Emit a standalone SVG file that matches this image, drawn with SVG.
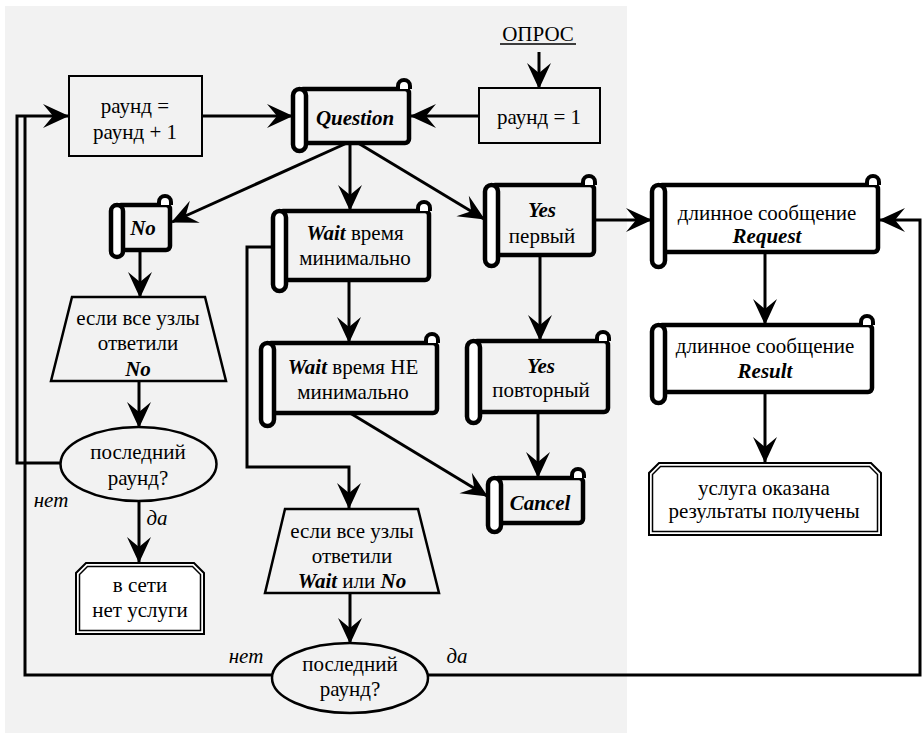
<svg xmlns="http://www.w3.org/2000/svg" width="922" height="733" viewBox="0 0 922 733">
<style>
text{font-size:21px;text-anchor:middle;fill:#000}
.bi{font-weight:bold;font-style:italic}
.it{font-style:italic}
.c{fill:none;stroke:#000;stroke-width:3;stroke-linejoin:miter}
.a{marker-end:url(#ah)}
.box{stroke:#000;stroke-width:2}
.sb{stroke:#000;stroke-width:4.5;stroke-linejoin:round}
.roll{fill:#fff;stroke:#000;stroke-width:4.5}
.curl{fill:#fff;stroke:#000;stroke-width:4}
.g{fill:#f2f2f2}
.w{fill:#fff}
.dbo{fill:#fff;stroke:#000;stroke-width:2}
.dbi{fill:none;stroke:#000;stroke-width:1.5}
</style>
<defs>
<marker id="ah" markerUnits="userSpaceOnUse" markerWidth="30" markerHeight="30" viewBox="-28 -15 30 30" refX="0" refY="0" orient="auto">
<path d="M1,0 L-25,-12 L-15,0 L-25,12 Z" fill="#000"/>
</marker>
</defs>
<rect x="0" y="0" width="922" height="733" fill="#fff"/>
<rect x="5" y="6" width="622" height="727" fill="#f2f2f2"/>
<g font-family="Liberation Serif, Tinos, DejaVu Serif, serif">
<g id="connectors">
<path class="c a" d="M539,52 V88"/>
<path class="c a" d="M479,116 H411"/>
<path class="c a" d="M202,116 H292"/>
<path class="c a" d="M60,463 H17 V116 H68"/>
<path class="c" d="M272,675 H25 V116"/>
<path class="c a" d="M347,143 L172,222"/>
<path class="c a" d="M350,143 V210"/>
<path class="c a" d="M358,143 L484,219"/>
<path class="c a" d="M140,250 V297"/>
<path class="c a" d="M139,381 V427"/>
<path class="c a" d="M139,501 V562"/>
<path class="c a" d="M273,247 H247 V467 H349 V508"/>
<path class="c a" d="M349,280 V342"/>
<path class="c a" d="M350,413 L487,496"/>
<path class="c a" d="M540,255 V340"/>
<path class="c a" d="M538,412 V477"/>
<path class="c a" d="M594,220 H651"/>
<path class="c a" d="M765,252 V324"/>
<path class="c a" d="M765,392 V462"/>
<path class="c a" d="M350,593 V643"/>
<path class="c a" d="M428,675 H920 V220 H880"/>
</g>

<g id="opros">
<text x="538" y="41">ОПРОС</text>
<line x1="500" y1="44" x2="576" y2="44" stroke="#000" stroke-width="1.5"/>
</g>

<g id="n-round1">
<rect class="box g" x="479" y="88" width="121" height="55"/>
<text x="539" y="124">раунд = 1</text>
</g>

<g id="n-roundinc">
<rect class="box g" x="69" y="76" width="133" height="80"/>
<text x="135" y="113">раунд =</text>
<text x="135" y="139">раунд + 1</text>
</g>

<g id="n-question">
<rect class="sb g" x="299" y="89" width="110" height="54" rx="4"/>
<rect class="roll" x="293" y="89" width="13" height="62" rx="6.5"/>
<path class="curl" d="M398,89 V86 A6,6 0 0 1 410,86 V89"/>
<text class="bi" x="355" y="125">Question</text>
</g>

<g id="n-no">
<rect class="sb g" x="117" y="205" width="53" height="45" rx="4"/>
<rect class="roll" x="111" y="205" width="12" height="52" rx="6"/>
<path class="curl" d="M159,205 V202 A6,6 0 0 1 171,202 V205"/>
<text class="bi" x="143" y="235">No</text>
</g>

<g id="n-waitmin">
<rect class="sb g" x="279" y="211" width="150" height="69" rx="4"/>
<rect class="roll" x="273" y="211" width="13" height="80" rx="6.5"/>
<path class="curl" d="M418,211 V208 A6,6 0 0 1 430,208 V211"/>
<text x="355" y="240"><tspan class="bi">Wait</tspan> время</text>
<text x="355" y="265">минимально</text>
</g>

<g id="n-waitnot">
<rect class="sb g" x="267" y="343" width="170" height="70" rx="4"/>
<rect class="roll" x="261" y="343" width="13" height="83" rx="6.5"/>
<path class="curl" d="M426,343 V340 A6,6 0 0 1 438,340 V343"/>
<text x="353" y="374"><tspan class="bi">Wait</tspan> время НЕ</text>
<text x="353" y="399">минимально</text>
</g>

<g id="n-yes1">
<rect class="sb g" x="491" y="185" width="103" height="70" rx="4"/>
<rect class="roll" x="485" y="185" width="13" height="81" rx="6.5"/>
<path class="curl" d="M583,185 V182 A6,6 0 0 1 595,182 V185"/>
<text class="bi" x="542" y="217">Yes</text>
<text x="542" y="243">первый</text>
</g>

<g id="n-yes2">
<rect class="sb g" x="473" y="341" width="135" height="71" rx="4"/>
<rect class="roll" x="467" y="341" width="13" height="82" rx="6.5"/>
<path class="curl" d="M597,341 V338 A6,6 0 0 1 609,338 V341"/>
<text class="bi" x="541" y="373">Yes</text>
<text x="541" y="397">повторный</text>
</g>

<g id="n-cancel">
<rect class="sb g" x="494" y="478" width="89" height="45" rx="4"/>
<rect class="roll" x="488" y="478" width="13" height="54" rx="6.5"/>
<path class="curl" d="M572,478 V475 A6,6 0 0 1 584,475 V478"/>
<text class="bi" x="540" y="510">Cancel</text>
</g>

<g id="n-request">
<rect class="sb w" x="658" y="185" width="220" height="67" rx="4"/>
<rect class="roll" x="652" y="185" width="13" height="82" rx="6.5"/>
<path class="curl" d="M867,185 V182 A6,6 0 0 1 879,182 V185"/>
<text x="767" y="220">длинное сообщение</text>
<text class="bi" x="767" y="243">Request</text>
</g>

<g id="n-result">
<rect class="sb w" x="658" y="325" width="214" height="67" rx="4"/>
<rect class="roll" x="652" y="325" width="13" height="78" rx="6.5"/>
<path class="curl" d="M861,325 V322 A6,6 0 0 1 873,322 V325"/>
<text x="765" y="353">длинное сообщение</text>
<text class="bi" x="765" y="378">Result</text>
</g>

<g id="n-done">
<path class="dbo" d="M649,535 V473 L659,463 H871 L881,473 V535 Z"/>
<path class="dbi" d="M652.5,531.5 V474.5 L660.5,466.5 H869.5 L877.5,474.5 V531.5 Z"/>
<text x="764" y="495">услуга оказана</text>
<text x="764" y="518">результаты получены</text>
</g>

<g id="n-noservice">
<path class="dbo" d="M76,634 V573 L86,563 H194 L204,573 V634 Z"/>
<path class="dbi" d="M79.5,630.5 V574.5 L87.5,566.5 H192.5 L200.5,574.5 V630.5 Z"/>
<text x="140" y="592">в сети</text>
<text x="140" y="617">нет услуги</text>
</g>

<g id="n-trap1">
<path d="M72,297 H205 L226,381 H51 Z" fill="#f2f2f2" stroke="#000" stroke-width="2.5"/>
<text x="138" y="325">если все узлы</text>
<text x="138" y="350">ответили</text>
<text class="bi" x="138" y="376">No</text>
</g>

<g id="n-trap2">
<path d="M285,509 H418 L439,593 H265 Z" fill="#f2f2f2" stroke="#000" stroke-width="2.5"/>
<text x="352" y="538">если все узлы</text>
<text x="352" y="563">ответили</text>
<text x="352" y="588"><tspan class="bi">Wait</tspan> или <tspan class="bi">No</tspan></text>
</g>

<g id="n-last1">
<ellipse cx="138.5" cy="464" rx="78" ry="37" fill="#f2f2f2" stroke="#000" stroke-width="2.5"/>
<text x="138" y="459">последний</text>
<text x="138" y="485">раунд?</text>
</g>

<g id="n-last2">
<ellipse cx="350" cy="678" rx="78" ry="35" fill="#f2f2f2" stroke="#000" stroke-width="2.5"/>
<text x="350" y="671">последний</text>
<text x="350" y="696">раунд?</text>
</g>

<g id="labels">
<text class="it" x="51" y="507">нет</text>
<text class="it" x="157" y="525">да</text>
<text class="it" x="246" y="663">нет</text>
<text class="it" x="457" y="663">да</text>
</g>
</g>
</svg>
